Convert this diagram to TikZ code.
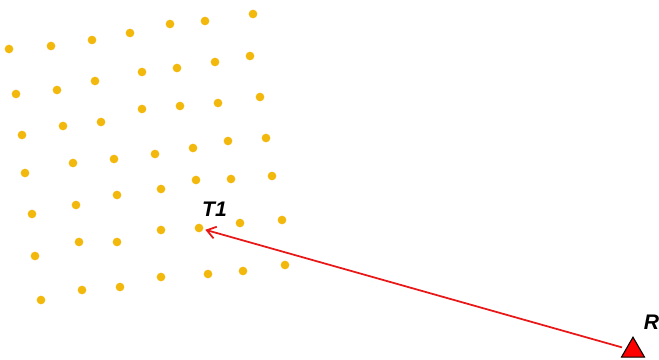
\documentclass[tikz,border=0pt]{standalone}
\usepackage{fontspec}
\setmainfont{Liberation Sans}
\usepackage{xcolor}
\usetikzlibrary{shapes.geometric, arrows.meta, positioning}
\definecolor{dotyellow}{RGB}{242,184,12}
\definecolor{rayred}{RGB}{232,24,24}

\begin{document}
\begin{tikzpicture}[
    x=0.03cm, y=-0.03cm,
    grid dot/.style={circle, fill=dotyellow, inner sep=0pt, minimum size=0.26cm},
    receiver/.style={regular polygon, regular polygon sides=3, draw=black, line width=0.9pt, fill=red, inner sep=0pt, minimum size=0.8cm},
    tag/.style={font=\fontsize{18}{21}\selectfont\bfseries\itshape, inner sep=0pt},
    ray/.style={-{Straight Barb[length=2.6mm, width=3.6mm]}, draw=rayred, line width=1.5pt, shorten >=0.06cm, shorten <=0.12cm}
]
\useasboundingbox (0,0) rectangle (659,360);

% Grid of points
\foreach \px/\py [count=\i] in {
    9/49, 51/46, 92/40, 130/33, 170/24, 205/21, 253/14,
    16/94, 57/90, 95/81, 142/72, 177/68, 215/62, 250/56,
    22/135, 63/126, 101/122, 142/109, 180/106, 218/103, 260/97,
    25/173, 73/163, 114/159, 155/154, 193/148, 228/141, 266/138,
    32/214, 76/205, 117/195, 161/189, 196/180, 231/179, 272/176,
    35/256, 79/242, 117/242, 161/230, 240/223, 282/220,
    41/300, 82/290, 120/287, 161/277, 208/274, 243/271, 285/265}
    \node[grid dot] (d\i) at (\px,\py) {};

% Target point
\node[grid dot] (t1) at (199,228) {};
\node[tag] (t1label) at (214.5,209) {T1};

% Receiver
\node[receiver] (r) at (633,350.5) {};
\node[tag] (rlabel) at (651.5,322) {R};

\draw[ray] (r) -- (t1);

\end{tikzpicture}
\end{document}
